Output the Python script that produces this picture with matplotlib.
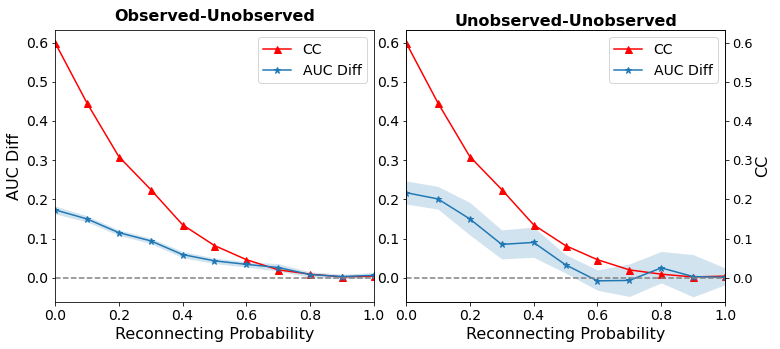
import numpy as np
import matplotlib
matplotlib.use("Agg")
import matplotlib.pyplot as plt

# reconnecting probabilities
p = [0.0, 0.1, 0.2, 0.3, 0.4, 0.5, 0.6, 0.7, 0.8, 0.9, 1.0]

# clustering coefficient (same for both panels)
cc = [0.600, 0.446, 0.309, 0.225, 0.135, 0.082, 0.046, 0.020, 0.009, 0.002, 0.004]

# observed-unobserved AUC diff + band
auc_ou = [0.173, 0.150, 0.115, 0.094, 0.059, 0.043, 0.034, 0.026, 0.008, 0.003, 0.006]
auc_ou_lo = [0.163, 0.142, 0.108, 0.087, 0.051, 0.036, 0.027, 0.017, 0.001, -0.003, -0.001]
auc_ou_hi = [0.183, 0.158, 0.122, 0.101, 0.067, 0.050, 0.041, 0.036, 0.015, 0.009, 0.013]

# unobserved-unobserved AUC diff + band
auc_uu = [0.217, 0.201, 0.150, 0.085, 0.090, 0.033, -0.008, -0.007, 0.025, 0.003, 0.001]
auc_uu_lo = [0.188, 0.175, 0.109, 0.048, 0.052, 0.012, -0.032, -0.048, -0.013, -0.049, -0.018]
auc_uu_hi = [0.247, 0.233, 0.192, 0.122, 0.129, 0.059, 0.020, 0.035, 0.067, 0.059, 0.025]

titles = ["Observed-Unobserved", "Unobserved-Unobserved"]

fig = plt.figure(figsize=(780 / 72, 349 / 72), dpi=72)
ax1 = fig.add_axes([55 / 780, 47 / 349, 319 / 780, 272 / 349])
ax2 = fig.add_axes([406 / 780, 47 / 349, 319 / 780, 272 / 349])

ylim = (-0.062, 0.632)

for ax, auc, lo, hi, title, pad in [(ax1, auc_ou, auc_ou_lo, auc_ou_hi, titles[0], 9),
                                     (ax2, auc_uu, auc_uu_lo, auc_uu_hi, titles[1], 4)]:
    ax.plot(p, cc, color="red", marker="^", markersize=7, lw=1.5, label="CC")
    ax.plot(p, auc, color="C0", marker="*", markersize=7, lw=1.5, label="AUC Diff")
    ax.fill_between(p, lo, hi, color="C0", alpha=0.2, lw=0)
    ax.axhline(0, color="gray", ls="--", lw=1.5)
    ax.set_xlim(0, 1)
    ax.set_ylim(*ylim)
    ax.set_xlabel("Reconnecting Probability", fontsize=16)
    ax.set_title(title, fontsize=16, fontweight="bold", pad=pad)
    ax.tick_params(labelsize=14)
    ax.legend(loc="upper right", fontsize=14)

ax1.set_ylabel("AUC Diff", fontsize=16)

ax2r = ax2.twinx()
ax2r.set_ylim(*ylim)
ax2r.set_yticks([0.0, 0.1, 0.2, 0.3, 0.4, 0.5, 0.6])
ax2r.tick_params(labelsize=13)
ax2r.set_ylabel("CC", fontsize=16, labelpad=2)

fig.savefig("out.png", dpi=72)
